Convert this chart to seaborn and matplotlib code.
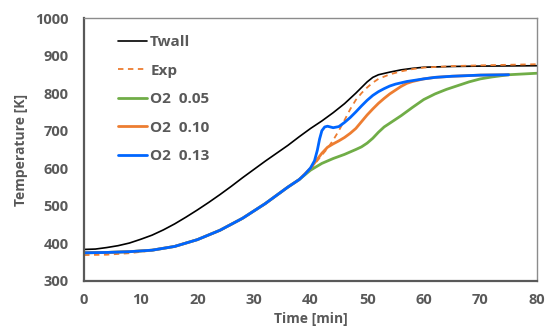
import matplotlib
matplotlib.use("Agg")
import matplotlib.pyplot as plt
import seaborn as sns
import pandas as pd

# wall temperature
t_wall = [0, 2, 4, 6, 8, 10, 12, 14, 16, 18, 20, 22, 24, 26, 28, 30, 32, 34, 36, 38, 40,
          42, 44, 46, 48, 49, 50, 51, 52, 54, 56, 58, 60, 65, 70, 80]
T_wall = [384, 385, 389, 394, 401, 411, 422, 436, 452, 470, 489, 509, 530, 552, 575, 597, 619,
          640, 661, 684, 706, 726, 748, 772, 800, 815, 830, 842, 849, 856, 862, 866, 869, 871, 872, 873]

# experiment
t_exp = [0, 4, 8, 12, 16, 20, 24, 28, 32, 36, 38, 40, 42, 43, 44, 45, 46, 47, 48, 49, 50,
         51, 52, 54, 56, 58, 60, 65, 70, 80]
T_exp = [369, 370, 374, 381, 393, 410, 434, 466, 505, 549, 571, 598, 635, 653, 675, 700, 728,
         757, 782, 800, 815, 828, 838, 850, 858, 864, 868, 872, 874, 877]

# simulations, O2 fraction 0.05 / 0.10 / 0.13
t_o5 = [0, 4, 8, 12, 16, 20, 24, 28, 32, 36, 38, 40, 42, 44, 46, 48, 49, 50, 51, 52, 53, 54,
        56, 58, 60, 62, 64, 66, 68, 70, 72, 75, 80]
T_o5 = [375, 376, 378, 382, 392, 410, 435, 467, 506, 550, 570, 595, 613, 626, 637, 650, 657,
        667, 680, 696, 710, 720, 740, 762, 783, 798, 810, 820, 830, 838, 843, 849, 853]

t_o10 = [0, 4, 8, 12, 16, 20, 24, 28, 32, 36, 38, 40, 41, 42, 43, 44, 45, 46, 47, 48, 49, 50,
         51, 52, 53, 54, 55, 56, 57, 58, 60, 62, 65, 70, 75]
T_o10 = [375, 376, 378, 382, 392, 410, 435, 467, 506, 550, 570, 600, 620, 640, 656, 665, 673,
         682, 693, 706, 724, 742, 758, 773, 786, 798, 808, 818, 826, 831, 838, 842, 845, 848, 849]

t_o13 = [0, 4, 8, 12, 16, 20, 24, 28, 32, 36, 38, 39, 40, 40.7, 41.2, 41.6, 42, 42.5, 43, 43.5,
         44, 45, 46, 47, 48, 49, 50, 51, 52, 53, 54, 55, 57, 60, 62, 65, 70, 75]
T_o13 = [375, 376, 378, 382, 392, 410, 435, 467, 506, 550, 570, 584, 601, 620, 648, 678, 700,
         710, 712, 710, 708, 711, 722, 735, 750, 766, 781, 794, 804, 812, 819, 824, 831, 838,
         842, 845, 848, 849]

series = [
    ("Twall", t_wall, T_wall, "black", "-", 1.2),
    ("Exp", t_exp, T_exp, "#ED7D31", (0, (3, 2.5)), 1.3),
    ("O2  0.05", t_o5, T_o5, "#70AD47", "-", 2.0),
    ("O2  0.10", t_o10, T_o10, "#ED7D31", "-", 2.0),
    ("O2  0.13", t_o13, T_o13, "#0066FF", "-", 2.0),
]

sns.set_style("white")
plt.rcParams['font.family'] = ['Open Sans', 'DejaVu Sans']

fig = plt.figure(figsize=(5.46, 3.36), dpi=100)
ax = fig.add_axes([0.154, 0.1637, 0.8295, 0.7827])

for name, t, T, c, ls, lw in series:
    df = pd.DataFrame({"t": t, "T": T})
    sns.lineplot(data=df, x="t", y="T", ax=ax, color=c, linestyle=ls,
                 linewidth=lw, label=name)

gray = "#595959"
ax.set_xlim(0, 80)
ax.set_ylim(300, 1000)
ax.set_xticks(range(0, 81, 10))
ax.set_yticks(range(300, 1001, 100))
ax.tick_params(direction="in", length=4, width=1, colors=gray, labelsize=10.5)
ax.tick_params(axis="x", pad=9)
ax.tick_params(axis="y", pad=11)
for lab in ax.get_xticklabels() + ax.get_yticklabels():
    lab.set_fontweight("bold")
for s in ["left", "bottom"]:
    ax.spines[s].set_color(gray)
    ax.spines[s].set_linewidth(1.6)
for s in ["top", "right"]:
    ax.spines[s].set_color("#8c8c8c")
    ax.spines[s].set_linewidth(1.0)

ax.set_xlabel("Time [min]", fontsize=10, fontweight="bold", color=gray, labelpad=3)
ax.set_ylabel("Temperature [K]", fontsize=10, fontweight="bold", color=gray, labelpad=5)

leg = ax.legend(loc="upper left", bbox_to_anchor=(0.075, 0.935), frameon=False,
                borderpad=0, borderaxespad=0, handlelength=1.9, handletextpad=0.2,
                labelspacing=0.95, prop={"size": 11, "weight": "bold"})
for txt in leg.get_texts():
    txt.set_color(gray)

fig.savefig("out.png", dpi=100)
